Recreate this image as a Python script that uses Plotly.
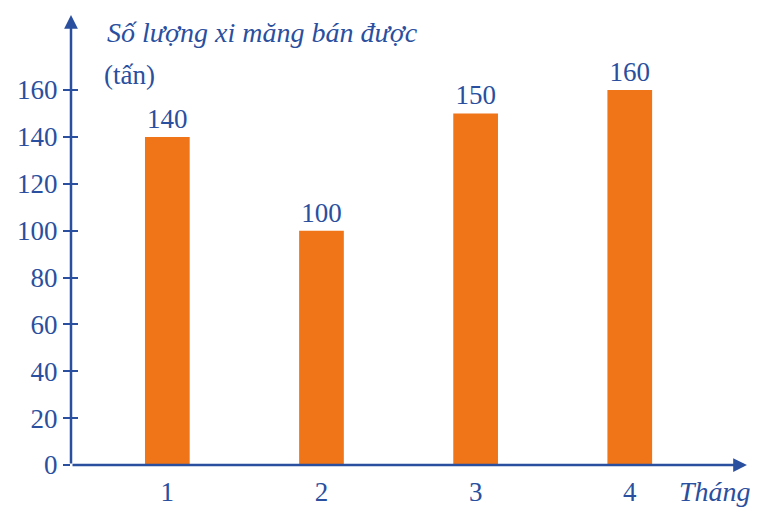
import plotly.graph_objects as go

months = [1, 2, 3, 4]
month_labels = ["1", "2", "3", "4"]
sold = [140, 100, 150, 160]
y_ticks = [0, 20, 40, 60, 80, 100, 120, 140, 160]

BLUE = "#2a4f9e"
ORANGE = "#f07418"
FONT = "Liberation Serif"
FS = 27

X0, X1 = 0.375, 4.78
Y1 = 192

fig = go.Figure()
fig.add_trace(go.Bar(x=months, y=sold, width=0.29, marker_color=ORANGE,
                     marker_line_width=0, text=[str(v) for v in sold],
                     textposition="outside", cliponaxis=False,
                     textfont=dict(family=FONT, size=FS, color=BLUE)))

# page body has an 8px margin, so the margins are shifted to compensate
fig.update_layout(
    width=758, height=508, showlegend=False,
    paper_bgcolor="white", plot_bgcolor="white",
    margin=dict(l=63, r=16, t=7, b=51),
    font=dict(family=FONT, color=BLUE),
    xaxis=dict(range=[X0, X1], tickvals=months, ticktext=month_labels,
               showgrid=False, zeroline=False, showline=False, ticks="",
               ticklabelstandoff=8, automargin=False,
               tickfont=dict(size=FS, color=BLUE)),
    yaxis=dict(range=[0, Y1], tickvals=y_ticks, showgrid=False,
               zeroline=False, showline=False, ticks="outside", ticklen=7,
               tickwidth=1.5, tickcolor=BLUE, automargin=False,
               tickfont=dict(size=FS, color=BLUE)),
    yaxis2=dict(range=[0, Y1], tickvals=y_ticks[1:], overlaying="y",
                showticklabels=False, showgrid=False, zeroline=False,
                ticks="inside", ticklen=7, tickwidth=1.5, tickcolor=BLUE,
                automargin=False),
)
# dummy trace so yaxis2 shows its ticks
fig.add_trace(go.Scatter(x=[None], y=[None], yaxis="y2", hoverinfo="skip"))

# axis arrows
for (ax, ay, x, y) in [(X0, 0, X0, Y1), (X0, 0, X1 - 0.02, 0)]:
    fig.add_annotation(x=x, y=y, ax=ax, ay=ay, xref="x", yref="y",
                       axref="x", ayref="y", showarrow=True, arrowhead=2,
                       arrowsize=1.1, arrowwidth=2.5, arrowcolor=BLUE, text="")

fig.add_annotation(x=0.05, y=1.0, xref="paper", yref="paper",
                   xanchor="left", yanchor="top", showarrow=False,
                   text="<i>Số lượng xi măng bán được</i>",
                   font=dict(family=FONT, size=28, color=BLUE))
fig.add_annotation(x=0.045, y=0.905, xref="paper", yref="paper",
                   xanchor="left", yanchor="top", showarrow=False,
                   text="(tấn)", font=dict(family=FONT, size=FS, color=BLUE))
fig.add_annotation(x=1.005, y=-0.02, xref="paper", yref="paper",
                   xanchor="right", yanchor="top", showarrow=False,
                   text="<i>Tháng</i>", font=dict(family=FONT, size=28, color=BLUE))

fig.write_html("out.html")
